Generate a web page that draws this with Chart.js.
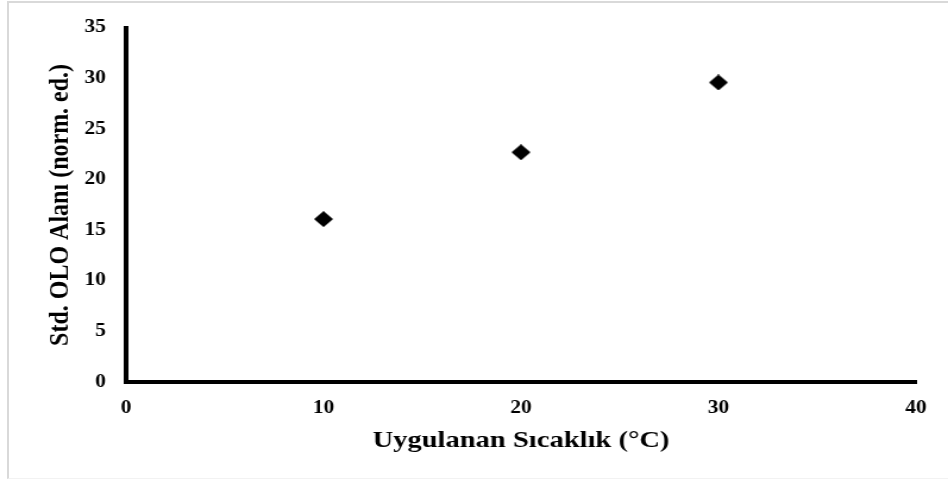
<!DOCTYPE html>
<html>
<head>
<meta charset="utf-8">
<script src="https://cdn.jsdelivr.net/npm/chart.js@4"></script>
<style>
  html, body { margin: 0; padding: 0; background: #fff; }
  #kutu {
    position: relative;
    width: 948px;
    height: 479px;
    overflow: hidden;
  }
  #cerceve {
    position: absolute;
    left: 7px; top: 1px; right: -4px; bottom: 0;
    border-top: 2px solid #d9d9d9;
    border-left: 2px solid #d9d9d9;
    border-bottom: 1px solid #f2f2f2;
    pointer-events: none;
  }
  /* grafik yatayda geniş: tuval dar çizilip yana uzatılıyor */
  #chartSicaklik {
    position: absolute;
    left: 0; top: 0;
    transform: scaleX(1.1895);
    transform-origin: 0 0;
  }
</style>
</head>
<body>
<div id="kutu">
  <div id="cerceve"></div>
  <canvas id="chartSicaklik" width="797" height="479"></canvas>
</div>
<script>
// === Veriler ===
const sicakliklar = [10, 20, 30];
const oloAlani = [16.1, 22.7, 29.6];
const xTikler = [0, 10, 20, 30, 40];
const yTikler = [0, 5, 10, 15, 20, 25, 30, 35];

const yazi = "'Liberation Serif', 'Times New Roman', serif";

// === Eşkenar dörtgen işaret ===
function elmas(w, h) {
  const c = document.createElement("canvas");
  c.width = w;
  c.height = h;
  const ctx = c.getContext("2d");
  ctx.fillStyle = "#000";
  ctx.beginPath();
  ctx.moveTo(w / 2, 0);
  ctx.lineTo(w, h / 2);
  ctx.lineTo(w / 2, h);
  ctx.lineTo(0, h / 2);
  ctx.closePath();
  ctx.fill();
  return c;
}
const isaret = elmas(16, 16);

new Chart(document.getElementById("chartSicaklik"), {
  type: "scatter",
  data: {
    datasets: [{
      label: "Std. OLO Alanı",
      data: sicakliklar.map((x, i) => ({ x: x, y: oloAlani[i] })),
      pointStyle: isaret,
      backgroundColor: "#000",
      borderColor: "#000"
    }]
  },
  options: {
    responsive: false,
    animation: false,
    devicePixelRatio: 1,
    plugins: {
      legend: { display: false },
      tooltip: { enabled: false }
    },
    layout: {
      padding: { top: 27, right: 27, bottom: 0, left: 0 }
    },
    scales: {
      x: {
        type: "linear",
        min: 0,
        max: 40,
        afterBuildTicks: (s) => { s.ticks = xTikler.map(v => ({ value: v })); },
        afterFit: (s) => { s.height = 97; },
        grid: { display: false, drawTicks: false },
        border: { display: true, color: "#000", width: 4 },
        ticks: {
          color: "#000",
          padding: 16,
          maxRotation: 0,
          font: { family: yazi, size: 18, weight: "bold" }
        },
        title: {
          display: true,
          text: "Uygulanan Sıcaklık (°C)",
          color: "#000",
          padding: { top: 0, bottom: 24 },
          font: { family: yazi, size: 24, weight: "bold" }
        }
      },
      y: {
        type: "linear",
        min: 0,
        max: 35,
        afterBuildTicks: (s) => { s.ticks = yTikler.map(v => ({ value: v })); },
        afterFit: (s) => { s.width = 106; },
        grid: { display: false, drawTicks: false },
        border: { display: true, color: "#000", width: 4 },
        ticks: {
          color: "#000",
          padding: 17,
          font: { family: yazi, size: 18, weight: "bold" }
        },
        title: {
          display: true,
          text: "Std. OLO Alanı (norm. ed.)",
          color: "#000",
          padding: { top: 36, bottom: 0 },
          font: { family: yazi, size: 24, weight: "bold" }
        }
      }
    }
  }
});
</script>
</body>
</html>
